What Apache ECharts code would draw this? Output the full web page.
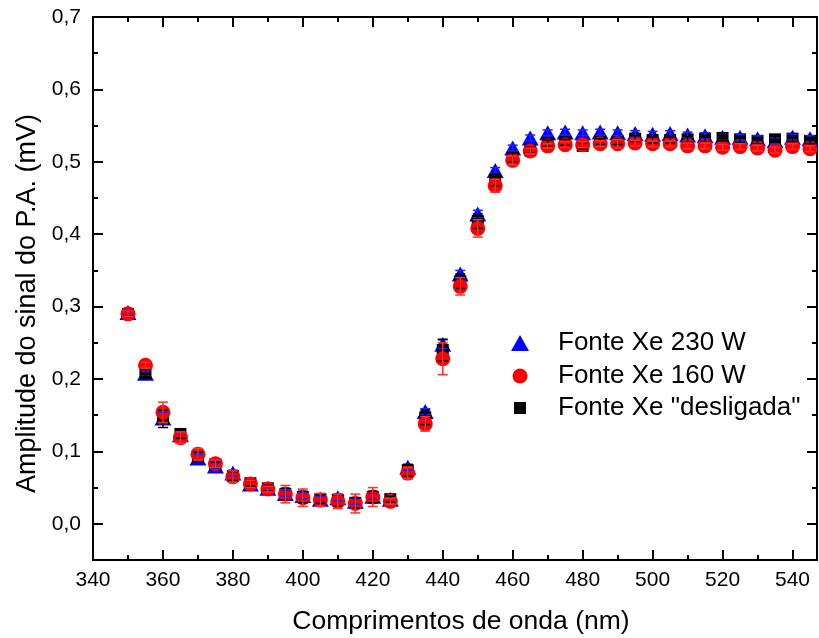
<!DOCTYPE html>
<html>
<head>
<meta charset="utf-8">
<script src="https://cdn.jsdelivr.net/npm/echarts@6/dist/echarts.min.js"></script>
<style>
html,body{margin:0;padding:0;background:#fff;}
#chart{width:819px;height:638px;}
</style>
</head>
<body>
<div id="chart"></div>
<script>
// ---- data ----
var wavelengths = [350,355,360,365,370,375,380,385,390,395,400,405,410,415,420,425,430,435,440,445,450,455,460,465,470,475,480,485,490,495,500,505,510,515,520,525,530,535,540,545];
var xe230 = [0.292,0.208,0.146,0.123,0.091,0.080,0.070,0.055,0.049,0.042,0.039,0.034,0.036,0.031,0.038,0.034,0.078,0.155,0.248,0.345,0.428,0.488,0.519,0.533,0.540,0.541,0.540,0.541,0.540,0.539,0.538,0.539,0.537,0.536,0.534,0.534,0.532,0.529,0.534,0.532];
var xe230Err = [0.004,0.004,0.008,0.004,0.005,0.004,0.004,0.004,0.004,0.004,0.004,0.004,0.004,0.004,0.004,0.004,0.004,0.004,0.006,0.005,0.005,0.004,0.004,0.004,0.004,0.004,0.004,0.004,0.004,0.004,0.004,0.004,0.004,0.004,0.004,0.004,0.004,0.004,0.004,0.004];
var xe160 = [0.290,0.219,0.154,0.119,0.096,0.083,0.065,0.055,0.048,0.041,0.036,0.033,0.031,0.028,0.037,0.031,0.070,0.138,0.228,0.328,0.408,0.467,0.502,0.515,0.522,0.5235,0.5235,0.525,0.525,0.526,0.525,0.525,0.522,0.522,0.520,0.521,0.519,0.516,0.521,0.518];
var xe160Err = [0.004,0.004,0.014,0.008,0.008,0.005,0.008,0.005,0.004,0.012,0.012,0.009,0.010,0.013,0.013,0.004,0.008,0.010,0.022,0.012,0.012,0.009,0.006,0.004,0.003,0.004,0.004,0.004,0.006,0.004,0.004,0.004,0.004,0.004,0.004,0.004,0.004,0.004,0.004,0.004];
var xeOff = [0.290,0.208,0.145,0.124,0.093,0.082,0.066,0.056,0.049,0.041,0.037,0.034,0.033,0.029,0.037,0.034,0.074,0.147,0.240,0.335,0.418,0.475,0.506,0.516,0.526,0.527,0.522,0.528,0.528,0.532,0.530,0.530,0.531,0.532,0.533,0.531,0.529,0.531,0.532,0.529];
var xeOffErr = [0.004,0.005,0.012,0.006,0.006,0.004,0.006,0.004,0.004,0.008,0.008,0.006,0.008,0.007,0.008,0.004,0.008,0.010,0.015,0.010,0.010,0.008,0.006,0.004,0.004,0.004,0.004,0.004,0.004,0.004,0.004,0.004,0.004,0.004,0.004,0.004,0.004,0.004,0.004,0.004];
var xMajorTicks = [340,360,380,400,420,440,460,480,500,520,540];
var xMinorTicks = [350,370,390,410,430,450,470,490,510,530];
var yMajorTicks = [0,0.1,0.2,0.3,0.4,0.5,0.6,0.7];
var yMinorTicks = [0.05,0.15,0.25,0.35,0.45,0.55,0.65];
var seriesNames = ['Fonte Xe 230 W','Fonte Xe 160 W','Fonte Xe "desligada"'];

function pts(vals){ return wavelengths.map(function(w,i){ return [w, vals[i]]; }); }
function errs(vals, e){ return wavelengths.map(function(w,i){ return [w, vals[i]-e[i], vals[i]+e[i]]; }); }

function errSeries(vals, e, color){
  return {
    type:'custom', xAxisIndex:0, yAxisIndex:0, silent:true, z:5,
    data: errs(vals, e),
    encode:{x:0, y:[1,2]},
    renderItem: function(params, api){
      var x = api.value(0);
      var lo = api.coord([x, api.value(1)]);
      var hi = api.coord([x, api.value(2)]);
      var hw = 5;
      var st = {stroke: color, lineWidth: 1.5};
      return {type:'group', children:[
        {type:'line', shape:{x1:lo[0], y1:lo[1], x2:hi[0], y2:hi[1]}, style:st},
        {type:'line', shape:{x1:lo[0]-hw, y1:lo[1], x2:lo[0]+hw, y2:lo[1]}, style:st},
        {type:'line', shape:{x1:hi[0]-hw, y1:hi[1], x2:hi[0]+hw, y2:hi[1]}, style:st}
      ]};
    }
  };
}

var FONT = 'Liberation Sans, Arial, sans-serif';
var axLine = {show:true, onZero:false, lineStyle:{color:'#000', width:2}};
function xAx(pos, ticks, len, labels){
  return {
    type:'value', position:pos, min:340, max:547,
    axisLine: axLine,
    axisTick:{show:true, inside:true, length:len, customValues:ticks, lineStyle:{color:'#000', width:2}},
    axisLabel: labels ? {show:true, customValues:ticks, margin:10, color:'#000', fontSize:21, fontFamily:FONT} : {show:false},
    splitLine:{show:false},
    name: labels ? 'Comprimentos de onda (nm)' : '',
    nameLocation:'middle', nameGap:48,
    nameTextStyle:{color:'#000', fontSize:26.5, fontFamily:FONT, padding:[0,0,0,12]}
  };
}
function yAx(pos, ticks, len, labels){
  return {
    type:'value', position:pos, min:-0.05, max:0.7,
    axisLine: axLine,
    axisTick:{show:true, inside:true, length:len, customValues:ticks, lineStyle:{color:'#000', width:2}},
    axisLabel: labels ? {show:true, customValues:ticks, margin:12, color:'#000', fontSize:21, fontFamily:FONT,
      formatter:function(v){ return v.toFixed(1).replace('.', ','); }} : {show:false},
    splitLine:{show:false},
    name: labels ? 'Amplitude do sinal do P.A. (mV)' : '',
    nameLocation:'middle', nameGap:52,
    nameTextStyle:{color:'#000', fontSize:27, fontFamily:FONT, padding:[0,30,0,0]}
  };
}

function legendFor(name, icon, w, h, top){
  var left = 520 - w / 2;
  var pad = 558 - (left + w + 5);
  return {
    data:[{name:name, icon:icon}], left:left, top:top, orient:'vertical',
    itemWidth:w, itemHeight:h, padding:0,
    textStyle:{color:'#000', fontSize:26, fontFamily:FONT, padding:[0,0,0,pad]}
  };
}

var option = {
  animation:false,
  backgroundColor:'#fff',
  grid:{left:93, top:17, width:724, height:543, containLabel:false, outerBoundsMode:'none'},
  xAxis:[xAx('bottom', xMajorTicks, 10, true), xAx('bottom', xMinorTicks, 5, false),
         xAx('top', xMajorTicks, 10, false), xAx('top', xMinorTicks, 5, false)],
  yAxis:[yAx('left', yMajorTicks, 10, true), yAx('left', yMinorTicks, 5, false),
         yAx('right', yMajorTicks, 10, false), yAx('right', yMinorTicks, 5, false)],
  legend:[
    legendFor(seriesNames[0], 'triangle', 18, 16, 330),
    legendFor(seriesNames[1], 'circle', 15, 15, 363),
    legendFor(seriesNames[2], 'rect', 12, 12, 395)
  ],
  series:[
    {name:seriesNames[0], type:'scatter', xAxisIndex:0, yAxisIndex:0, symbol:'triangle', symbolSize:[17,15],
      itemStyle:{color:'#0000ff', opacity:1}, data:pts(xe230), z:2},
    {name:seriesNames[2], type:'scatter', xAxisIndex:0, yAxisIndex:0, symbol:'rect', symbolSize:12,
      itemStyle:{color:'#000000', opacity:1}, data:pts(xeOff), z:3},
    {name:seriesNames[1], type:'scatter', xAxisIndex:0, yAxisIndex:0, symbol:'circle', symbolSize:15,
      itemStyle:{color:'#ff0000', opacity:1}, data:pts(xe160), z:4},
    errSeries(xe230, xe230Err, '#2020ff'),
    errSeries(xeOff, xeOffErr, '#000000'),
    errSeries(xe160, xe160Err, '#ff3030')
  ]
};
var chart = echarts.init(document.getElementById('chart'), null, {renderer:'canvas'});
chart.setOption(option);
</script>
</body>
</html>
